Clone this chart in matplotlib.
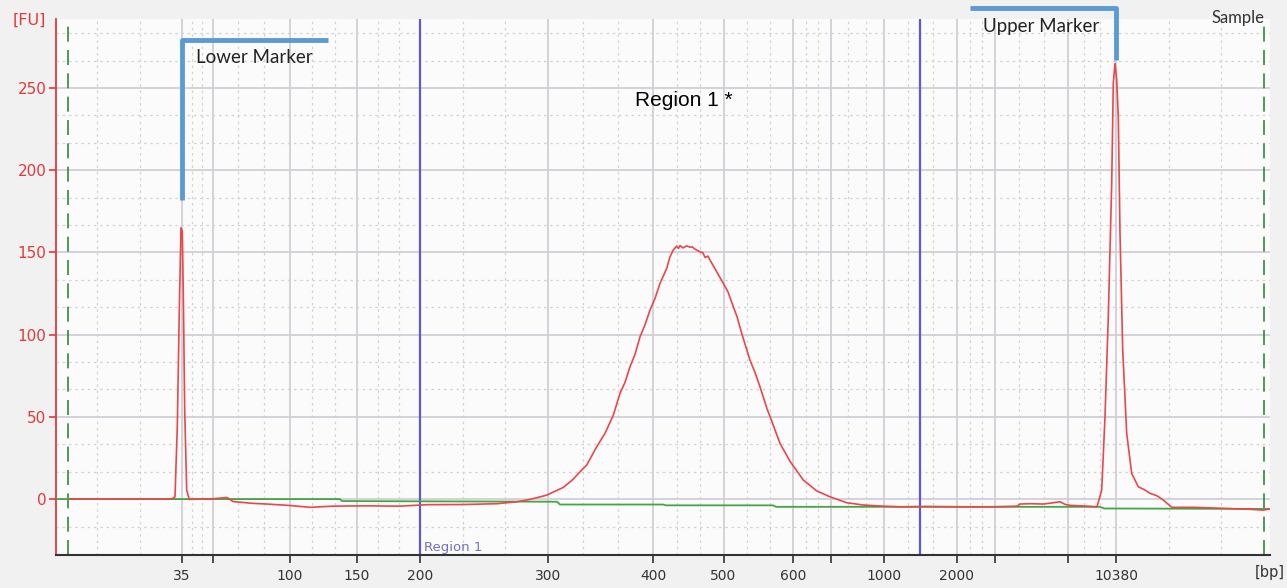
import numpy as np
import matplotlib.pyplot as plt

# electropherogram trace, x is migration position (screen units), y in FU
pos = [70, 100, 130, 160, 172, 175, 177.3, 179.3, 181, 182.3, 183.3, 184.7, 186.7, 189.3,
       200, 215, 227, 233, 253, 267, 290, 310, 333, 367, 400, 427, 463, 497, 517, 530,
       546.7, 563.3, 573, 580, 586.7, 596.7, 605, 613.3, 620, 625, 630, 635, 640, 645, 650,
       655, 660, 666.7, 670, 673.3, 676.7, 678.5, 680, 683, 686.7, 690, 692, 695, 700, 703,
       705, 708, 710, 716, 723.3, 728, 733.3, 737, 741.7, 750, 755, 760, 767, 772, 780, 790,
       803.3, 816.7, 830, 846.7, 863.3, 883.3, 900, 927, 960, 993, 1017, 1020, 1030, 1043,
       1050, 1060, 1065, 1070, 1085, 1097, 1101.7, 1105, 1108.3, 1111.7, 1113.3, 1115,
       1116.7, 1118.3, 1120, 1122.7, 1126.7, 1131.7, 1138.3, 1145, 1150, 1157, 1163.3,
       1171.7, 1193, 1226.7, 1250, 1263, 1270]
fu = [0.2, 0, 0.1, 0, 0.2, 1.4, 44, 115, 165, 163, 125, 54, 5.5, -0.2,
      0, 0.3, 1.0, -1.5, -2.6, -3.0, -3.9, -5.0, -4.3, -4.1, -4.3, -3.4, -3.3, -2.8, -1.6, -0.2,
      2.4, 7.1, 12, 16.6, 20.7, 31.8, 40, 51, 64.3, 71, 80.5, 88, 98.7, 106, 115,
      122, 131.2, 140.3, 147.4, 151.5, 153.9, 152.5, 154.2, 152.8, 154, 153.2, 153.5, 152, 150.4, 149.8,
      147, 147.8, 145.4, 139, 131.2, 126, 117, 111, 100.8, 84.5, 77, 68.3, 55, 47, 33.9, 23,
      11.6, 5.0, 1.4, -2.2, -3.6, -4.3, -4.7, -4.5, -4.7, -4.7, -4.3, -3.0, -2.8, -3.0,
      -2.5, -1.6, -3.2, -3.8, -4.2, -4.7, 5.5, 50, 111, 192, 253, 265,
      255, 232, 162, 91, 40, 15.6, 7.5, 5.5, 3.5, 2.0, -0.6,
      -5, -5, -5.7, -6.2, -6.7, -6.0]

# fitted baseline (green)
base_pos = [56, 340, 342, 557, 560, 663, 666, 773, 776, 1100, 1104, 1270]
base_fu = [0, 0, -1.2, -1.6, -3.3, -3.3, -3.8, -3.8, -4.7, -4.7, -5.7, -6.0]

# bp ladder ticks
tick_pos = [182, 212.7, 290, 357, 420, 548, 653, 723.5, 793, 830.6, 884, 957, 995, 1068, 1116]
tick_lbl = ['35', '', '100', '150', '200', '300', '400', '500', '600', '', '1000', '2000', '', '', '10380']

region_pos = [420, 920]
window_pos = [68, 1264]
lower_marker = (182, 182, 279, 328)   # x, y bottom, y top, x end of bracket
upper_marker = (1116, 267, 298.7, 970)

fig = plt.figure(figsize=(12.87, 5.88), dpi=100, facecolor='#f1f1f1')
ax = fig.add_axes([56/1287, 33/588, (1270-56)/1287, (555-19)/588])
ax.set_facecolor('#fbfbfb')
ax.set_xlim(56, 1270)
ax.set_ylim(-34, 292)

# grid: solid at majors, dotted at thirds between
ext = [55] + tick_pos + [1274]
minor_x = []
for a, b in zip(ext[:-1], ext[1:]):
    minor_x += [a + (b - a) / 3, a + 2 * (b - a) / 3]
for x in tick_pos:
    ax.axvline(x, color='#cfcfd6', lw=1.3, zorder=0)
for x in minor_x:
    ax.axvline(x, color='#d2d2d2', lw=0.9, ls=(0, (2, 3)), zorder=0)
yt = [0, 50, 100, 150, 200, 250]
for y in yt:
    ax.axhline(y, color='#cfcfd6', lw=1.3, zorder=0)
for y in np.arange(-50/3, 292, 50/3):
    if round(y) % 50 != 0:
        ax.axhline(y, color='#d2d2d2', lw=0.9, ls=(0, (2, 3)), zorder=0)

for x in window_pos:
    ax.axvline(x, color='#2f8a3a', lw=1.2, ls=(0, (9, 5)), zorder=2)
for x in region_pos:
    ax.axvline(x, color='#5b5bd0', lw=1.6, zorder=2)

ax.plot(base_pos, base_fu, color='#45a545', lw=1.3, zorder=3)
ax.plot(pos, fu, color='#e8474c', lw=1.2, zorder=4)

# marker brackets
x0, yb, yt_, x1 = lower_marker
ax.plot([x0, x0, x1], [yb, yt_, yt_], color='#5b9bd5', lw=3.5, solid_capstyle='butt', zorder=5, clip_on=False)
ax.text(196, 268.5, 'Lower Marker', family='Lato', fontsize=13.5, color='#222222', va='center')
x0, yb, yt_, x1 = upper_marker
ax.plot([x1, x0, x0], [yt_, yt_, yb], color='#5b9bd5', lw=3.5, solid_capstyle='butt', zorder=5, clip_on=False)
ax.text(983, 287.5, 'Upper Marker', family='Lato', fontsize=13.5, color='#222222', va='center')
ax.text(1212, 292.5, 'Sample', family='Lato', fontsize=12, color='#333333', va='center')

ax.text(684, 242.5, 'Region 1 *', family='Liberation Sans', fontsize=15, color='black', ha='center', va='center')
ax.text(424, -29.5, 'Region 1', fontsize=9.5, color='#7070c8', va='center')

ax.set_xticks(tick_pos)
ax.set_xticklabels(tick_lbl)
ax.set_yticks(yt)
ax.tick_params(axis='x', direction='out', length=6, width=1.2, colors='#333333', labelsize=10, pad=4)
ax.tick_params(axis='y', direction='out', length=5, width=1.2, colors='#e03a3a', labelsize=11, pad=2)
for s in ['top', 'right']:
    ax.spines[s].set_visible(False)
ax.spines['left'].set_color('#e03a3a')
ax.spines['left'].set_linewidth(1.3)
ax.spines['bottom'].set_color('#333333')
ax.spines['bottom'].set_linewidth(1.5)

fig.text(13/1287, 1 - 20/588, '[FU]', color='#e03a3a', fontsize=11.5, va='center')
fig.text(1285/1287, 1 - 573/588, '[bp]', color='#333333', fontsize=10.5, va='center', ha='right')

fig.savefig('out.png', dpi=100, facecolor=fig.get_facecolor())
